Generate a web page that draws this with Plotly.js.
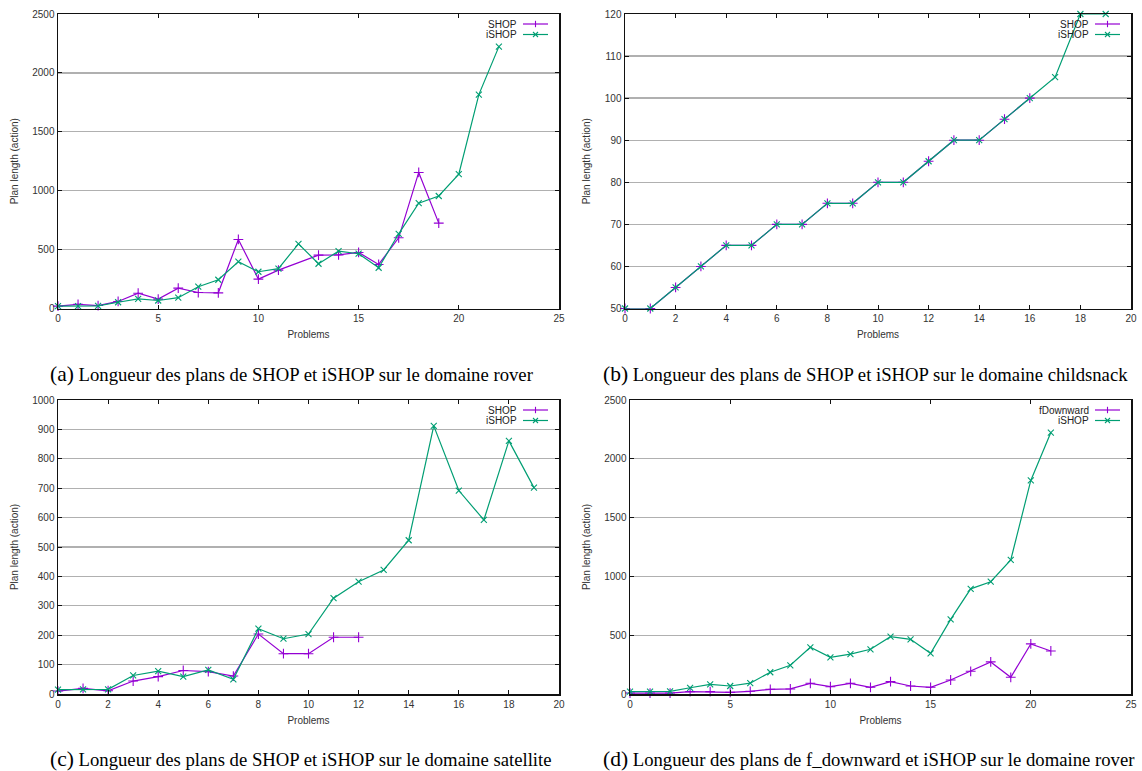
<!DOCTYPE html>
<html><head><meta charset="utf-8">
<script src="https://cdn.plot.ly/plotly-3.0.1.min.js"></script>
<style>html,body{margin:0;padding:0;background:#fff}#chart{width:1142px;height:771px}</style>
</head><body><div id="chart"></div>
<script>
// ---- data ----
const roverShopX   = [0,1,2,3,4,5,6,7,8,9,10,11,13,14,15,16,17,18,19];
const roverShopY   = [20,35,25,60,130,80,173,136,133,586,249,326,453,455,476,374,600,1155,725];
const roverIshopX  = [0,1,2,3,4,5,6,7,8,9,10,11,12,13,14,15,16,17,18,19,20,21,22];
const roverIshopY  = [20,20,22,53,81,68,92,185,244,397,312,339,549,380,487,465,346,634,894,955,1140,1816,2223];

const childShopX   = [0,1,2,3,4,5,6,7,8,9,10,11,12,13,14,15,16];
const childShopY   = [50,50,55,60,65,65,70,70,75,75,80,80,85,90,90,95,100];
const childIshopX  = [0,1,2,3,4,5,6,7,8,9,10,11,12,13,14,15,16,17,18,19];
const childIshopY  = [50,50,55,60,65,65,70,70,75,75,80,80,85,90,90,95,100,105,120,120];

const satShopX     = [0,1,2,3,4,5,6,7,8,9,10,11,12];
const satShopY     = [10,19,11,44,59,80,76,61,204,137,137,193,193];
const satIshopX    = [0,1,2,3,4,5,6,7,8,9,10,11,12,13,14,15,16,17,18,19];
const satIshopY    = [15,16,16,63,78,59,82,50,222,188,204,326,382,422,523,912,692,592,861,702];

const fdownX       = [0,1,2,3,4,5,6,7,8,9,10,11,12,13,14,15,16,17,18,19,20,21];
const fdownY       = [8,8,8,20,20,14,23,40,43,91,62,91,57,105,68,57,119,193,273,142,426,366];
const roverD_IshopX= [0,1,2,3,4,5,6,7,8,9,10,11,12,13,14,15,16,17,18,19,20,21];
const roverD_IshopY= [20,20,22,53,81,68,92,185,244,397,312,339,380,487,465,346,634,894,955,1140,1816,2223];

const captions = [
  ['(a)', 'Longueur des plans de SHOP et iSHOP sur le domaine rover'],
  ['(b)', 'Longueur des plans de SHOP et iSHOP sur le domaine childsnack'],
  ['(c)', 'Longueur des plans de SHOP et iSHOP sur le domaine satellite'],
  ['(d)', 'Longueur des plans de f_downward et iSHOP sur le domaine rover']
];
const legendNames = [['SHOP','iSHOP'],['SHOP','iSHOP'],['SHOP','iSHOP'],['fDownward','iSHOP']];

// ---- styling / layout ----
const W = 1142, H = 771;
const PURPLE = '#9400d3', GREEN = '#009e73';
const SANS = 'Liberation Sans, Arial, sans-serif';
const SERIF = 'Liberation Serif, Times New Roman, serif';
const px = v => v / W;
const py = v => 1 - v / H;

// plot rectangles in pixels [left, right, top, bottom]
const rects = [
  [58, 559, 14, 308.5],
  [625, 1131, 14, 308.5],
  [58, 559, 400, 694],
  [630, 1131, 400, 694]
];
const xr = [[0,25],[0,20],[0,20],[0,25]];
const xd = [5,2,2,5];
const yr = [[0,2500],[50,120],[0,1000],[0,2500]];
const yd = [500,10,100,500];

function mk(x, y, color, sym, sub) {
  return {
    x: x, y: y, type: 'scatter', mode: 'lines+markers', cliponaxis: false,
    xaxis: 'x' + (sub === 1 ? '' : sub), yaxis: 'y' + (sub === 1 ? '' : sub),
    line: {color: color, width: 1.2},
    marker: {symbol: sym, size: sym === 'cross-thin-open' ? 7 : 6, color: color, line: {color: color, width: 1.1}},
    showlegend: false, hoverinfo: 'x+y'
  };
}

const data = [
  mk(roverShopX, roverShopY, PURPLE, 'cross-thin-open', 1),
  mk(roverIshopX, roverIshopY, GREEN, 'x-thin-open', 1),
  mk(childShopX, childShopY, PURPLE, 'cross-thin-open', 2),
  mk(childIshopX, childIshopY, GREEN, 'x-thin-open', 2),
  mk(satShopX, satShopY, PURPLE, 'cross-thin-open', 3),
  mk(satIshopX, satIshopY, GREEN, 'x-thin-open', 3),
  mk(fdownX, fdownY, PURPLE, 'cross-thin-open', 4),
  mk(roverD_IshopX, roverD_IshopY, GREEN, 'x-thin-open', 4)
];

const layout = {
  width: W, height: H, margin: {l:0, r:0, t:0, b:0},
  paper_bgcolor: '#fff', plot_bgcolor: '#fff',
  font: {family: SANS, size: 10, color: '#333'},
  showlegend: false, annotations: [], shapes: []
};

for (let i = 0; i < 4; i++) {
  const r = rects[i];
  const sfx = i === 0 ? '' : String(i + 1);
  layout['xaxis' + sfx] = {
    domain: [px(r[0]), px(r[1])], range: xr[i], dtick: xd[i], tick0: 0,
    anchor: 'y' + sfx, showgrid: false, zeroline: false,
    showline: true, linecolor: '#111', linewidth: 1.5, mirror: 'ticks',
    ticks: 'inside', ticklen: 4, tickwidth: 1, tickcolor: '#111',
    tickfont: {family: SANS, size: 10, color: '#333'},
    title: {text: 'Problems', font: {family: SANS, size: 10, color: '#333'}, standoff: 8},
    automargin: false, fixedrange: true
  };
  layout['yaxis' + sfx] = {
    domain: [py(r[3]), py(r[2])], range: yr[i], dtick: yd[i], tick0: 0,
    anchor: 'x' + sfx, showgrid: true, gridcolor: '#b0b0b0', gridwidth: 1.3, zeroline: false,
    showline: true, linecolor: '#111', linewidth: 1.5, mirror: 'ticks',
    ticks: 'inside', ticklen: 4, tickwidth: 1, tickcolor: '#111',
    tickfont: {family: SANS, size: 10, color: '#333'},
    title: {text: 'Plan length (action)', font: {family: SANS, size: 10, color: '#333'}, standoff: 12},
    automargin: false, fixedrange: true
  };

  // caption
  layout.annotations.push({
    xref: 'paper', yref: 'paper', x: px(i % 2 === 0 ? 48 : 601), y: py(i < 2 ? 374 : 758.5),
    xanchor: 'left', yanchor: 'middle', showarrow: false,
    text: '<span style="font-size:21.5px">' + captions[i][0] + '</span> ' + captions[i][1],
    font: {family: SERIF, size: 18.7, color: '#000'}
  });

  // key (text right-aligned, sample on the right, gnuplot style)
  const cols = [PURPLE, GREEN];
  for (let k = 0; k < 2; k++) {
    const yy = r[2] + 10 + 10.5 * k;
    layout.annotations.push({
      xref: 'paper', yref: 'paper', x: px(r[1] - 40), y: py(yy),
      xanchor: 'right', yanchor: 'middle', showarrow: false,
      text: legendNames[i][k], font: {family: SANS, size: 10, color: '#222'}
    });
    const c = cols[k];
    layout.shapes.push({type: 'line', xref: 'paper', yref: 'paper',
      x0: px(r[1] - 36), x1: px(r[1] - 11), y0: py(yy), y1: py(yy), line: {color: c, width: 1.2}});
    const cx = r[1] - 23.5;
    if (k === 0) {
      layout.shapes.push({type: 'line', xref: 'paper', yref: 'paper',
        x0: px(cx), x1: px(cx), y0: py(yy - 3.2), y1: py(yy + 3.2), line: {color: c, width: 1.1}});
    } else {
      layout.shapes.push({type: 'line', xref: 'paper', yref: 'paper',
        x0: px(cx - 2.5), x1: px(cx + 2.5), y0: py(yy - 2.5), y1: py(yy + 2.5), line: {color: c, width: 1.1}});
      layout.shapes.push({type: 'line', xref: 'paper', yref: 'paper',
        x0: px(cx - 2.5), x1: px(cx + 2.5), y0: py(yy + 2.5), y1: py(yy - 2.5), line: {color: c, width: 1.1}});
    }
  }
}

Plotly.newPlot('chart', data, layout, {displayModeBar: false, staticPlot: true});
</script>
</body></html>
